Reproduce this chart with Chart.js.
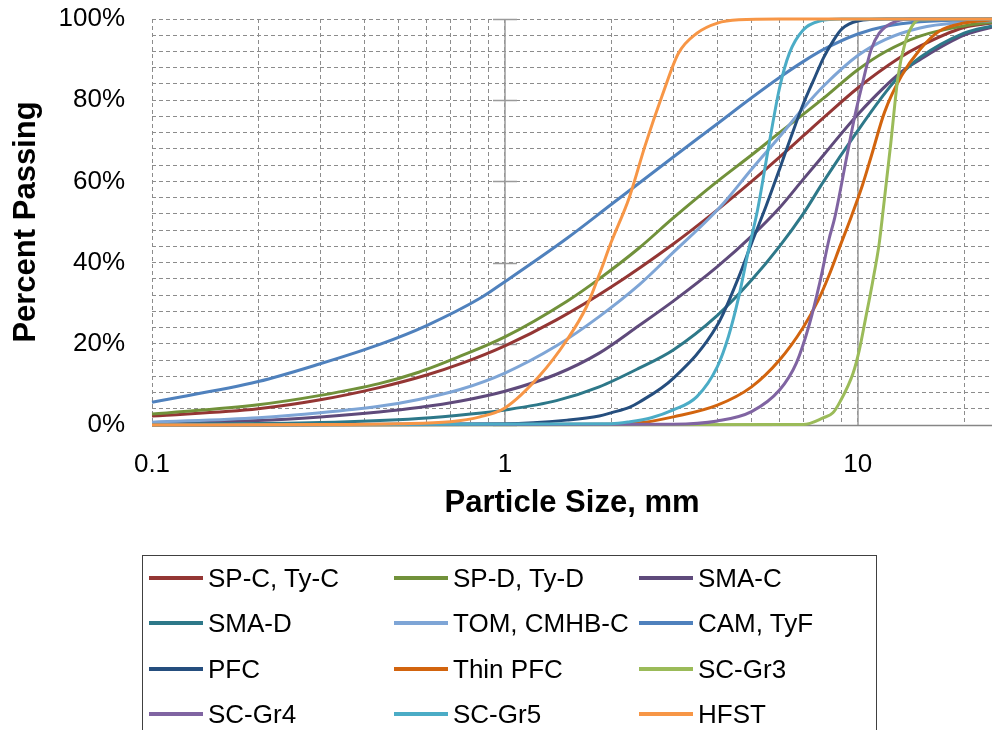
<!DOCTYPE html>
<html><head><meta charset="utf-8">
<script src="https://cdn.jsdelivr.net/npm/chart.js@4.4.1/dist/chart.umd.min.js"></script>
<style>
html,body{margin:0;padding:0;background:#fff;}
#wrap{position:relative;width:992px;height:730px;overflow:hidden;font-family:"Liberation Sans",Arial,sans-serif;}
#c{position:absolute;left:0;top:0;}
#legend{position:absolute;left:142px;top:555px;width:735px;height:200px;border:1px solid #404040;box-sizing:border-box;}
.item{position:absolute;height:30px;font-size:26px;line-height:30px;color:#000;white-space:nowrap;}
.item .sw{position:absolute;left:0;top:13px;width:54px;height:4px;}
.item .tx{position:absolute;left:59px;top:0;}
</style></head>
<body><div id="wrap"><canvas id="c" width="992" height="730"></canvas><div id="legend"></div></div>
<script>
// ---- data (particle size in mm, percent passing) ----
const seriesNames = ["SP-C, Ty-C","SP-D, Ty-D","SMA-C","SMA-D","TOM, CMHB-C","CAM, TyF","PFC","Thin PFC","SC-Gr3","SC-Gr4","SC-Gr5","HFST"];
const seriesColors = ["#943634","#71913A","#5F4A7B","#2D7889","#7EA5D6","#4F81BD","#254E7E","#D2640E","#9BBB59","#8064A2","#4BACC6","#F79646"];

const sizeSPC = [0.1,0.2,0.3,0.44,0.6,0.75,1,1.4,2,3,4,5,6,7,8,10,13,15,20,24];
const passSPC = [2.2,4.0,6.2,9.2,12.3,15.1,19.5,25.9,34.0,44.6,53.0,60.0,66.0,71.2,75.7,83.0,90.2,93.3,97.9,99.0];

const sizeSPD = [0.1,0.2,0.3,0.44,0.57,0.75,1,1.5,1.85,2.4,3,4,5,6,7,8,10,12,15,20,24];
const passSPD = [2.7,5.0,7.3,10.2,13.0,17.0,21.7,30.5,36.0,43.6,51.0,60.0,66.5,72.0,76.5,80.5,87.5,92.0,95.8,98.3,99.2];

const sizeSMAC = [0.1,0.2,0.3,0.44,0.57,0.75,1,1.4,1.85,2.4,3,4,5,6,7,8,10,13.3,15,20,24];
const passSMAC = [0.5,1.1,2.0,3.2,4.3,5.9,8.3,12.5,17.7,24.5,30.5,39.0,46.5,53.5,60.5,66.5,76.5,87.0,90.0,96.0,98.0];

const sizeSMAD = [0.1,0.3,0.57,0.8,1,1.4,1.85,2.4,3,4,5,6,7,8,10,12,13.3,15,20,24];
const passSMAD = [0.2,0.6,1.6,2.7,3.7,6.0,9.4,14.0,18.5,27.0,35.7,44.0,52.0,60.0,72.5,82.0,86.5,90.5,96.5,98.3];

const sizeTOM = [0.1,0.2,0.3,0.44,0.57,0.75,1,1.4,1.85,2.4,3,3.8,4.2,5,6,7,8,10,12,15,20,24];
const passTOM = [0.7,1.8,3.0,4.6,6.3,8.8,12.8,19.5,26.7,34.5,42.5,51.0,55.0,63.0,71.0,78.0,83.5,91.0,95.0,97.8,99.2,99.6];

const sizeCAM = [0.1,0.2,0.3,0.44,0.6,0.85,1,1.5,2,3,4,5,6,7,8,10,12,15,24];
const passCAM = [5.6,10.7,15.1,19.8,24.5,31.2,35.3,46.0,54.3,66.0,74.2,80.6,85.6,89.5,92.5,96.3,98.2,99.3,100];

const sizePFC = [0.1,1,1.5,1.85,2,2.26,2.4,3,4,4.6,5,5.5,6,6.5,7,7.5,8,8.5,9,10,12,24];
const passPFC = [0,0.3,1.2,2.2,3.0,4.4,5.6,11.5,24.6,36.5,44.8,54,63,71.5,79,85,90.5,94.5,97.5,99.5,100,100];

const sizeThin = [0.1,2,2.5,3,4,5,6,7,7.7,8.3,8.9,9.6,10.3,10.9,11.9,13.3,15,17,20,24];
const passThin = [0,0.2,0.7,2,4.9,9.4,16,24,30.5,37,44,51.5,59,66,77,86,92.5,97,99,99.8];

const sizeGr3 = [0.1,7,8,8.5,8.9,9.7,10.1,10.5,11,11.5,11.8,12.4,13,13.6,14.3,15,24];
const passGr3 = [0,0.1,1.8,3,5.7,12.8,18.5,25.9,35,44.8,53,69.4,85.8,94,98.5,99.8,100];

const sizeGr4 = [0.1,3,4,5,6,6.7,7.3,7.8,8.3,8.6,9.3,9.8,10.3,10.9,11.5,12.5,14,24];
const passGr4 = [0,0.2,1,3.3,8.6,15.3,25,35,46,51,66,76,84,92.4,96.5,99,100,100];

const sizeGr5 = [0.1,2,2.26,2.6,3,3.5,4,4.3,4.6,4.9,5.2,5.6,6,6.4,7,7.8,9,24];
const passGr5 = [0,0.3,0.8,1.8,3.7,7,14.4,21.8,31.6,43,53,69,83,91.6,97.3,99.5,100,100];

const sizeHFST = [0.1,0.3,0.5,0.7,0.85,1,1.25,1.5,1.7,1.85,2,2.25,2.5,2.8,3.1,3.5,4,4.6,6,24];
const passHFST = [0,0.1,0.3,0.8,2,4.2,12,21,29,37,45,56,69,81.5,91.5,96.5,99,99.8,100,100];

const seriesSizes = [sizeSPC,sizeSPD,sizeSMAC,sizeSMAD,sizeTOM,sizeCAM,sizePFC,sizeThin,sizeGr3,sizeGr4,sizeGr5,sizeHFST];
const seriesPass  = [passSPC,passSPD,passSMAC,passSMAD,passTOM,passCAM,passPFC,passThin,passGr3,passGr4,passGr5,passHFST];

// axis ticks
const xGridValues = [0.1,0.2,0.3,0.4,0.5,0.6,0.7,0.8,0.9,1,2,3,4,5,6,7,8,9,10,20];
const xLabelValues = [0.1,1,10];
const xMin = 0.1, xMax = 24;
const yStep = 4, yLabelStep = 20;
const solidXLines = [1,10];
const majorPct = [0,20,40,60,80,100];

// ---- chart ----
const FONT = "'Liberation Sans', Arial, sans-serif";
const datasets = seriesNames.map((name,i)=>({
  label: name,
  data: seriesSizes[i].map((s,j)=>({x:s, y:seriesPass[i][j]})),
  borderColor: seriesColors[i],
  backgroundColor: seriesColors[i],
  borderWidth: 3,
  pointRadius: 0,
  fill: false,
  cubicInterpolationMode: 'monotone',
  order: seriesNames.length - i,
  clip: 4
}));

const refLines = {
  id: 'refLines',
  beforeDatasetsDraw(chart){
    const {ctx, chartArea:a, scales:{x,y}} = chart;
    ctx.save();
    ctx.strokeStyle = '#9a9a9a';
    ctx.lineWidth = 1.5;
    solidXLines.forEach(v=>{
      const px = Math.round(x.getPixelForValue(v));
      ctx.beginPath(); ctx.moveTo(px, a.top); ctx.lineTo(px, a.bottom); ctx.stroke();
    });
    const p1 = Math.round(x.getPixelForValue(1));
    majorPct.forEach(p=>{
      const py = Math.round(y.getPixelForValue(p))+0.5;
      ctx.beginPath(); ctx.moveTo(p1-12, py); ctx.lineTo(p1+12, py); ctx.stroke();
    });
    ctx.strokeStyle = '#868686';
    ctx.lineWidth = 1.5;
    const b = Math.round(y.getPixelForValue(0))+0.5;
    ctx.beginPath(); ctx.moveTo(a.left, b); ctx.lineTo(a.right, b); ctx.stroke();
    ctx.restore();
  }
};

new Chart(document.getElementById('c'), {
  type: 'line',
  data: { datasets },
  options: {
    responsive: false,
    animation: false,
    events: [],
    layout: { padding: { top: 19, right: 0, bottom: 205, left: 0 } },
    plugins: { legend: { display: false }, tooltip: { enabled: false } },
    scales: {
      x: {
        type: 'logarithmic',
        min: xMin, max: xMax,
        afterBuildTicks: s => { s.ticks = xGridValues.map(v=>({value:v})); },
        afterFit: s => { s.height = 100; s.paddingLeft = 0; s.paddingRight = 0; },
        ticks: {
          autoSkip: false, maxRotation: 0, padding: 24, color: '#000',
          font: { family: FONT, size: 26 },
          callback: v => xLabelValues.some(l=>Math.abs(l-v)<1e-9) ? String(v) : ''
        },
        grid: { color: '#8c8c8c', lineWidth: 1, drawTicks: false },
        border: { display: false, dash: [4,3] },
        title: { display: true, text: 'Particle Size, mm', color: '#000',
                 font: { family: FONT, size: 31, weight: 'bold', lineHeight: 1.2 },
                 padding: { top: 0, bottom: 3 } }
      },
      y: {
        min: 0, max: 100,
        afterFit: s => { s.width = 152; s.paddingTop = 0; s.paddingBottom = 0; },
        ticks: {
          stepSize: yStep, autoSkip: false, padding: 27, color: '#000',
          font: { family: FONT, size: 26 },
          callback: v => (v % yLabelStep === 0) ? v + '%' : ''
        },
        grid: { color: '#8c8c8c', lineWidth: 1, drawTicks: false },
        border: { display: false, dash: [4,3] },
        title: { display: true, text: 'Percent Passing', color: '#000',
                 font: { family: FONT, size: 31, weight: 'bold', lineHeight: 1.2 },
                 padding: { top: 8, bottom: 0 } }
      }
    }
  },
  plugins: [refLines]
});

// ---- legend (3 columns, row-major) ----
const legend = document.getElementById('legend');
const colStep = 245, rowStep = 45.3, firstRowCenter = 22, swLeft = 6;
seriesNames.forEach((name,i)=>{
  const r = Math.floor(i/3), c = i%3;
  const it = document.createElement('div');
  it.className = 'item';
  it.style.left = (swLeft + c*colStep) + 'px';
  it.style.top = (firstRowCenter + r*rowStep - 15) + 'px';
  const sw = document.createElement('span'); sw.className='sw'; sw.style.background = seriesColors[i];
  const tx = document.createElement('span'); tx.className='tx'; tx.textContent = name;
  it.appendChild(sw); it.appendChild(tx);
  legend.appendChild(it);
});
</script></body></html>
